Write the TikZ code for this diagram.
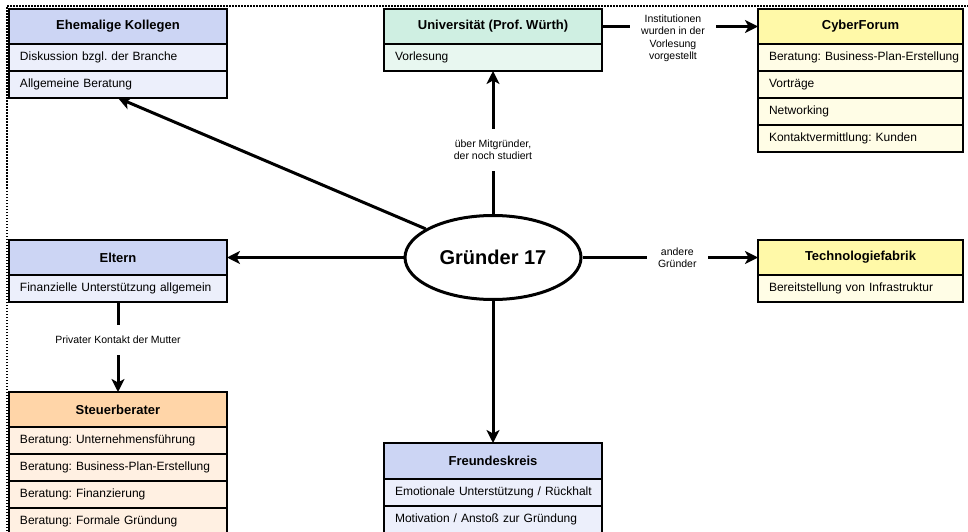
\documentclass[tikz,border=0pt]{standalone}
\usepackage{fontspec}
\setmainfont{Liberation Sans}
\usetikzlibrary{arrows.meta,shapes.geometric}
\frenchspacing
\definecolor{blueH}{HTML}{CCD5F4}
\definecolor{blueR}{HTML}{ECEFFB}
\definecolor{greenH}{HTML}{CFEFE2}
\definecolor{greenR}{HTML}{E8F7F0}
\definecolor{yelH}{HTML}{FFF9A8}
\definecolor{yelR}{HTML}{FFFDE6}
\definecolor{oraH}{HTML}{FFD5A8}
\definecolor{oraR}{HTML}{FFF0E2}
\begin{document}
\begin{tikzpicture}[x=1pt,y=-1pt,
  hdr/.style={draw=black, line width=1.6pt, outer sep=0pt, inner sep=0pt,
    anchor=north west, minimum height=35pt, align=center,
    font=\bfseries\fontsize{13}{15}\selectfont\frenchspacing},
  rowbox/.style={draw=black, line width=1.6pt, outer sep=0pt, inner xsep=0pt,
    inner ysep=0pt, anchor=north west, minimum height=27pt, align=left,
    text width=#1, font=\fontsize{12}{14}\selectfont\frenchspacing,
    execute at begin node={\hspace*{11pt}}},
  arr/.style={line width=3pt, -{Stealth[length=13pt,width=13pt,inset=3.5pt]}},
  lbl/.style={fill=white, align=center, inner sep=11pt,
    font=\fontsize{10.5}{12.5}\selectfont}
]
\useasboundingbox (0,0) rectangle (968,532);
\fill[white] (0,0) rectangle (968,532);
% dotted frame
\coordinate (fb) at (7,540);
\coordinate (fc) at (7,6);
\coordinate (fr) at (975,6);
\draw[line width=1.5pt, dash pattern=on 1.5pt off 1.5pt] (fb) -- (fc) -- (fr);

% Ehemalige Kollegen
\node[hdr, minimum width=218pt, fill=blueH] (kolH) at (9,9) {Ehemalige Kollegen};
\node[rowbox=218pt, fill=blueR] (kolA) at (kolH.south west) {Diskussion bzgl. der Branche};
\node[rowbox=218pt, fill=blueR] (kolB) at (kolA.south west) {Allgemeine Beratung};

% Universitaet
\node[hdr, minimum width=218pt, fill=greenH] (uniH) at (384,9) {Universität (Prof. Würth)};
\node[rowbox=218pt, fill=greenR] (uniA) at (uniH.south west) {Vorlesung};

% CyberForum
\node[hdr, minimum width=205pt, fill=yelH] (cyH) at (758,9) {CyberForum};
\node[rowbox=205pt, fill=yelR] (cyA) at (cyH.south west) {Beratung: Business-Plan-Erstellung};
\node[rowbox=205pt, fill=yelR] (cyB) at (cyA.south west) {Vorträge};
\node[rowbox=205pt, fill=yelR] (cyC) at (cyB.south west) {Networking};
\node[rowbox=205pt, fill=yelR] (cyD) at (cyC.south west) {Kontaktvermittlung: Kunden};

% Eltern
\node[hdr, minimum width=218pt, fill=blueH] (eltH) at (9,240) {Eltern};
\node[rowbox=218pt, fill=blueR] (eltA) at (eltH.south west) {Finanzielle Unterstützung allgemein};

% Technologiefabrik
\node[hdr, minimum width=205pt, fill=yelH] (techH) at (758,240) {Technologiefabrik};
\node[rowbox=205pt, fill=yelR] (techA) at (techH.south west) {Bereitstellung von Infrastruktur};

% Steuerberater
\node[hdr, minimum width=218pt, fill=oraH] (stH) at (9,392) {Steuerberater};
\node[rowbox=218pt, fill=oraR] (stA) at (stH.south west) {Beratung: Unternehmensführung};
\node[rowbox=218pt, fill=oraR] (stB) at (stA.south west) {Beratung: Business-Plan-Erstellung};
\node[rowbox=218pt, fill=oraR] (stC) at (stB.south west) {Beratung: Finanzierung};
\node[rowbox=218pt, fill=oraR] (stD) at (stC.south west) {Beratung: Formale Gründung};

% Freundeskreis
\node[hdr, minimum width=218pt, minimum height=36pt, fill=blueH] (frH) at (384,443) {Freundeskreis};
\node[rowbox=218pt, fill=blueR] (frA) at (frH.south west) {Emotionale Unterstützung / Rückhalt};
\node[rowbox=218pt, fill=blueR] (frB) at (frA.south west) {Motivation / Anstoß zur Gründung};

% Gruender
\node[draw=black, fill=white, ellipse, line width=3pt, minimum width=176pt, minimum height=84pt,
  inner sep=0pt, font=\bfseries\fontsize{20}{24}\selectfont] (gr) at (493,257.5) {Gründer 17};

% connectors
\draw[arr] (gr) -- (kolB.south);
\draw[arr] (gr.north) -- node[lbl, pos=0.45] {über Mitgründer,\\der noch studiert} (uniA.south);
\draw[arr] (gr.west) -- (eltH.east);
\draw[arr] (gr.east) -- node[lbl, pos=0.54] {andere\\Gründer} (techH.west);
\draw[arr] (gr.south) -- (frH.north);
\draw[arr] (eltA.south) -- node[lbl, pos=0.42] {Privater Kontakt der Mutter} (stH.north);
\draw[arr] (uniH.east) -- node[lbl, pos=0.455, inner ysep=2pt, yshift=-12pt]
  {Institutionen\\wurden in der\\Vorlesung\\vorgestellt} (cyH.west);
\end{tikzpicture}
\end{document}
